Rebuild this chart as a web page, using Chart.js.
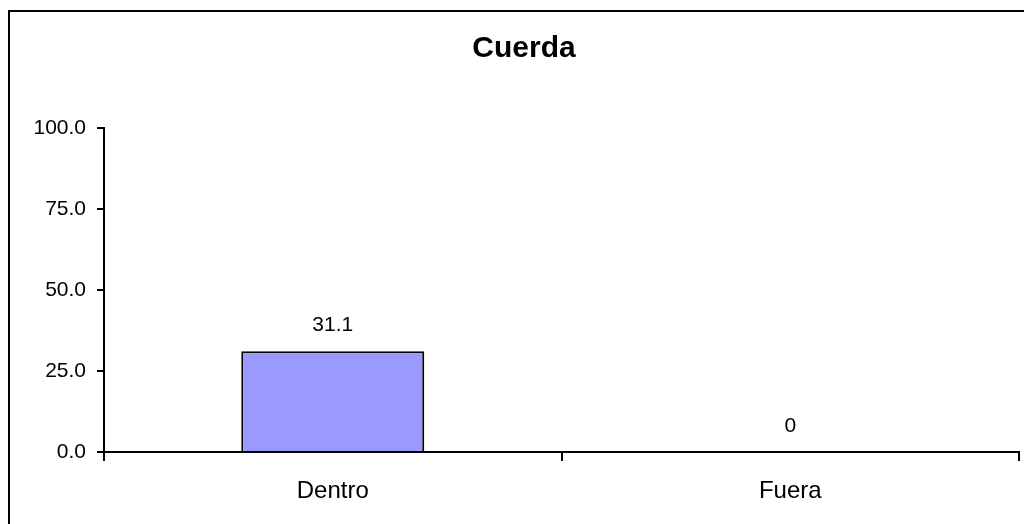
<!DOCTYPE html>
<html>
<head>
<meta charset="utf-8">
<script src="https://cdn.jsdelivr.net/npm/chart.js@4"></script>
<style>
  html, body { margin: 0; padding: 0; background: #fff; }
  canvas { display: block; }
</style>
</head>
<body>
<canvas id="chart" width="1024" height="524"></canvas>
<script>
const chartTitle = "Cuerda";
const categories = ["Dentro", "Fuera"];
const values = [31.1, 0];
const valueLabels = ["31.1", "0"];
const yTicks = [0, 25, 50, 75, 100];

const FONT = "'Liberation Sans', Arial, sans-serif";

// outer frame and title of the chart object (frame runs off the page right/bottom)
const framePlugin = {
    id: "frame",
    beforeDraw(chart) {
        const ctx = chart.ctx;
        ctx.save();
        ctx.strokeStyle = "#000";
        ctx.lineWidth = 2;
        ctx.strokeRect(9, 11, chart.width + 20, chart.height + 20);
        ctx.font = `bold 30px ${FONT}`;
        ctx.fillStyle = "#000";
        ctx.textAlign = "center";
        ctx.textBaseline = "middle";
        ctx.fillText(chartTitle, 524, 49);
        ctx.restore();
    },
};

// value above each bar
const valueLabelPlugin = {
    id: "valueLabels",
    afterDatasetsDraw(chart) {
        const ctx = chart.ctx;
        const meta = chart.getDatasetMeta(0);
        ctx.save();
        ctx.font = `21px ${FONT}`;
        ctx.fillStyle = "#000";
        ctx.textAlign = "center";
        ctx.textBaseline = "middle";
        meta.data.forEach((bar, i) => {
            ctx.fillText(valueLabels[i], bar.x, bar.y - 26);
        });
        ctx.restore();
    },
};

new Chart(document.getElementById("chart"), {
    type: "bar",
    data: {
        labels: categories,
        datasets: [{
            data: values,
            backgroundColor: "#9999FF",
            borderColor: "#000",
            borderWidth: 2,
            barPercentage: 0.4,
            categoryPercentage: 1,
        }],
    },
    options: {
        responsive: false,
        animation: false,
        layout: { padding: { left: 0, right: 5, top: 128, bottom: 0 } },
        plugins: {
            legend: { display: false },
            tooltip: { enabled: false },
            title: { display: false },
        },
        scales: {
            x: {
                grid: { offset: true, drawOnChartArea: false, color: "#000", lineWidth: 2, tickLength: 9 },
                border: { color: "#000", width: 2 },
                ticks: { color: "#000", font: { family: FONT, size: 24 }, padding: 16 },
                afterFit(scale) { scale.height = 72; },
            },
            y: {
                min: 0,
                max: 100,
                grid: { drawOnChartArea: false, color: "#000", lineWidth: 2, tickLength: 7 },
                border: { color: "#000", width: 2 },
                afterBuildTicks(scale) { scale.ticks = yTicks.map((v) => ({ value: v })); },
                ticks: {
                    color: "#000",
                    font: { family: FONT, size: 21 },
                    padding: 11,
                    callback: (v) => Number(v).toFixed(1),
                },
                afterFit(scale) { scale.width = 104; },
            },
        },
    },
    plugins: [framePlugin, valueLabelPlugin],
});
</script>
</body>
</html>
